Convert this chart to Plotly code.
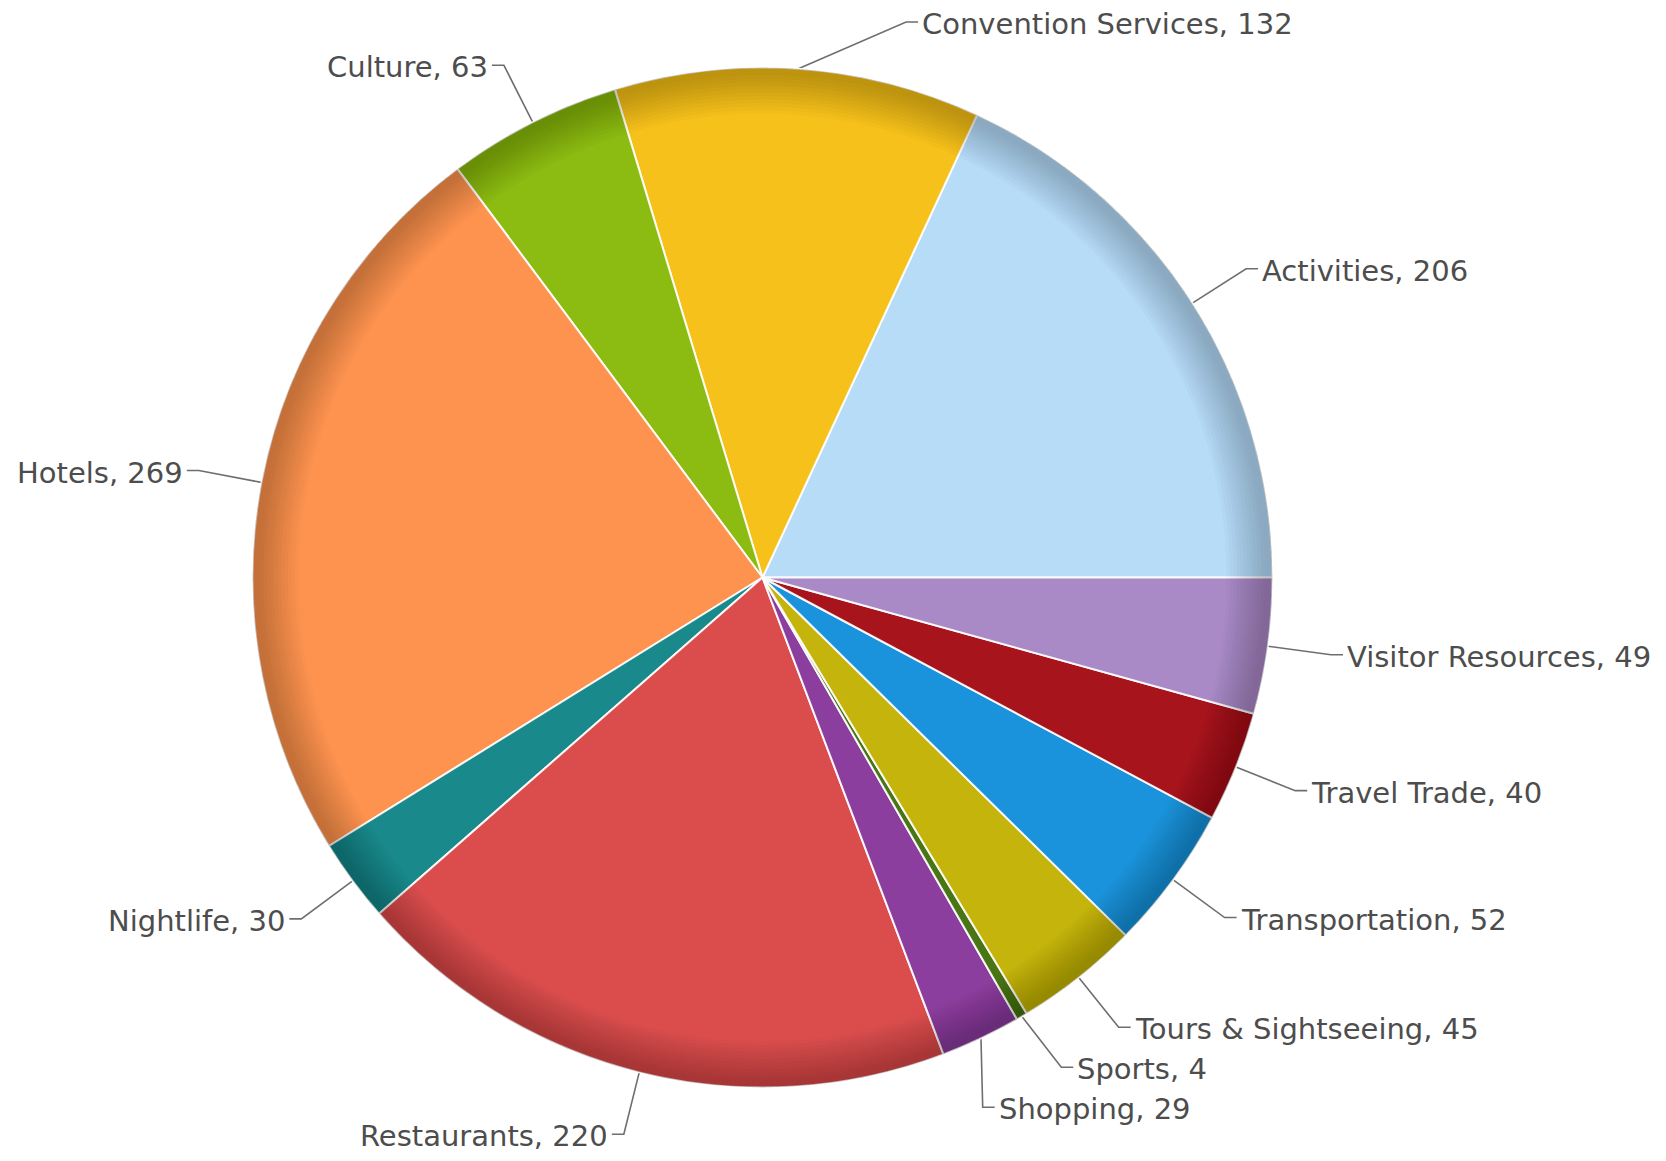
import math
import plotly.graph_objects as go

categories = ["Activities", "Convention Services", "Culture", "Hotels", "Nightlife",
              "Restaurants", "Shopping", "Sports", "Tours & Sightseeing",
              "Transportation", "Travel Trade", "Visitor Resources"]
values = [206, 132, 63, 269, 30, 220, 29, 4, 45, 52, 40, 49]
colors = ["#b6dcf8", "#f6c11b", "#8cbb12", "#fe9350", "#19898b", "#db4d4d",
          "#8c3e9e", "#4a7514", "#c4b40c", "#1b93dc", "#a8141c", "#a98ac6"]

W, H = 1666, 1161
cx, cy, r = 762.5, 577.5, 510.0
label_r = r * 1.125
font_size = 29
min_gap = 40
ymin, ymax = 22, 1140
text_dy = 2

dom_x = [(cx - r) / W, (cx + r) / W]
dom_y = [(H - cy - r) / H, (H - cy + r) / H]

total = sum(values)
# first slice spans from 3 o'clock counter-clockwise
rotation = 90 - values[0] / total * 360

fig = go.Figure()
fig.add_trace(go.Pie(
    labels=categories, values=values, sort=False, direction="counterclockwise",
    rotation=rotation, textinfo="none", hoverinfo="label+value",
    marker=dict(colors=colors, line=dict(color="rgba(255,255,255,0.9)", width=2)),
    domain=dict(x=dom_x, y=dom_y), showlegend=False))

# rim shading (simulated bevel)
n_layers = 12
for k in range(n_layers):
    hole = 0.91 + 0.0068 * k
    alpha = 0.018 if k < n_layers - 1 else 0.01
    fig.add_trace(go.Pie(
        values=[1], sort=False, hole=hole, textinfo="none", hoverinfo="skip",
        marker=dict(colors=[f"rgba(0,0,0,{alpha})"], line=dict(width=0)),
        domain=dict(x=dom_x, y=dom_y), showlegend=False))

cum = 0
items = []
for name, v in zip(categories, values):
    mid = (cum + v / 2) / total * 2 * math.pi
    cum += v
    ca, sa = math.cos(mid), math.sin(mid)
    ex, ey = cx + r * ca, cy - r * sa
    ny = cy - label_r * sa
    items.append(dict(name=name, v=v, ex=ex, ey=ey, y=ny, right=ca >= 0))

for side in (True, False):
    grp = sorted([it for it in items if it["right"] == side], key=lambda d: d["y"])
    for _ in range(300):
        for i in range(len(grp) - 1):
            gap = grp[i + 1]["y"] - grp[i]["y"]
            if gap < min_gap:
                d = (min_gap - gap) / 2
                grp[i]["y"] -= d * 0.6
                grp[i + 1]["y"] += d * 1.4
        for it in grp:
            it["y"] = min(max(it["y"], ymin), ymax)

lx, ly = [], []
for it in items:
    dy = it["y"] - cy
    dx = math.sqrt(max(label_r ** 2 - dy ** 2, 0))
    sgn = 1 if it["right"] else -1
    bx = cx + sgn * dx
    hx = bx + sgn * 12
    lx += [it["ex"], bx, hx, None]
    ly += [it["ey"], it["y"], it["y"], None]
    fig.add_annotation(
        x=hx + sgn * 2, y=it["y"] + text_dy, xref="x", yref="y",
        text=f"{it['name']}, {it['v']}", showarrow=False,
        xanchor="left" if it["right"] else "right", yanchor="middle",
        font=dict(family="DejaVu Sans, Verdana, sans-serif", size=font_size, color="#4d4d4d"))

fig.add_trace(go.Scatter(x=lx, y=ly, mode="lines", hoverinfo="skip",
                         line=dict(color="#6e6e6e", width=1.6), showlegend=False))

fig.update_layout(
    width=W, height=H, margin=dict(l=0, r=0, t=0, b=0),
    paper_bgcolor="white", plot_bgcolor="rgba(0,0,0,0)",
    xaxis=dict(range=[0, W], visible=False, fixedrange=True),
    yaxis=dict(range=[H, 0], visible=False, fixedrange=True),
)
fig.write_html("out.html")
